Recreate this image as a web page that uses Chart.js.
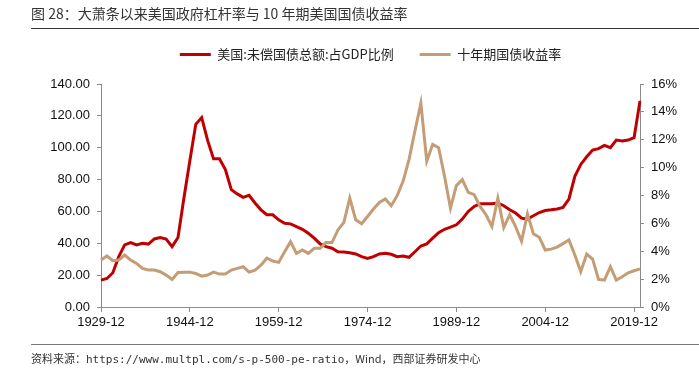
<!DOCTYPE html>
<html>
<head>
<meta charset="utf-8">
<script src="https://cdn.jsdelivr.net/npm/chart.js@4.4.1/dist/chart.umd.min.js"></script>
<style>
  html, body { margin: 0; padding: 0; background: #fff; }
  #wrap { position: relative; width: 699px; height: 368px; overflow: hidden; }
  #box { position: absolute; left: 0; top: 0; width: 699px; height: 368px; }
  .title { position: absolute; left: 31px; top: 4px; font-size: 14px; line-height: 18px; color: #333;
           font-family: "Noto Sans CJK SC", sans-serif; white-space: nowrap; }
  .rule { position: absolute; left: 31px; width: 668px; height: 1px; }
  .source { position: absolute; left: 31px; top: 351px; font-size: 11px; line-height: 14px; color: #333;
            font-family: "Noto Sans CJK SC", sans-serif; white-space: nowrap; }
  .source .mono { font-family: "DejaVu Sans Mono", monospace; font-size: 11px; }
</style>
</head>
<body>
<div id="wrap">
  <div id="box"><canvas id="debtChart"></canvas></div>
  <div class="title">图 28：大萧条以来美国政府杠杆率与 10 年期美国国债收益率</div>
  <div class="rule" style="top:28px; background:#333;"></div>
  <div class="rule" style="top:344px; background:#777;"></div>
  <div class="source">资料来源：<span class="mono">https://www.multpl.com/s-p-500-pe-ratio</span>，Wind，西部证券研发中心</div>
</div>
<script>
// 年份 (每年12月)
const years = [
  1929, 1930, 1931, 1932, 1933, 1934, 1935, 1936, 1937, 1938,
  1939, 1940, 1941, 1942, 1943, 1944, 1945, 1946, 1947, 1948,
  1949, 1950, 1951, 1952, 1953, 1954, 1955, 1956, 1957, 1958,
  1959, 1960, 1961, 1962, 1963, 1964, 1965, 1966, 1967, 1968,
  1969, 1970, 1971, 1972, 1973, 1974, 1975, 1976, 1977, 1978,
  1979, 1980, 1981, 1982, 1983, 1984, 1985, 1986, 1987, 1988,
  1989, 1990, 1991, 1992, 1993, 1994, 1995, 1996, 1997, 1998,
  1999, 2000, 2001, 2002, 2003, 2004, 2005, 2006, 2007, 2008,
  2009, 2010, 2011, 2012, 2013, 2014, 2015, 2016, 2017, 2018,
  2019, 2020
];

// 美国:未偿国债总额:占GDP比例 (左轴)
const debtToGdp = [
  16.9, 17.9, 21.5, 31.6, 39.0, 40.4, 39.0, 40.0, 39.5, 42.7,
  43.6, 42.7, 37.9, 43.6, 68.4, 91.8, 114.7, 118.9, 104.6, 93.0,
  93.0, 86.3, 73.7, 71.0, 68.8, 70.1, 65.3, 61.0, 57.9, 57.9,
  54.7, 52.6, 52.2, 50.5, 48.8, 46.3, 43.2, 39.6, 37.9, 36.9,
  34.7, 34.5, 34.1, 33.3, 31.6, 30.5, 31.6, 33.3, 33.7, 33.1,
  31.6, 32.0, 31.2, 34.7, 38.3, 39.6, 43.2, 46.7, 48.8, 50.1,
  51.6, 55.2, 60.0, 63.1, 64.8, 64.8, 64.8, 65.3, 63.6, 61.0,
  59.0, 55.8, 55.2, 57.3, 59.3, 60.6, 61.0, 61.5, 62.5, 67.8,
  82.0, 89.5, 94.3, 98.5, 99.4, 101.5, 100.0, 104.8, 104.2, 104.8,
  106.3, 129.4
];

// 十年期国债收益率, % (右轴)
const tenYearYield = [
  3.37, 3.66, 3.32, 3.37, 3.73, 3.37, 3.13, 2.77, 2.65, 2.65,
  2.53, 2.29, 1.98, 2.48, 2.50, 2.50, 2.41, 2.21, 2.29, 2.50,
  2.36, 2.36, 2.65, 2.77, 2.89, 2.50, 2.65, 3.00, 3.50, 3.30,
  3.20, 3.97, 4.69, 3.85, 4.09, 3.85, 4.21, 4.21, 4.62, 4.62,
  5.53, 6.06, 7.82, 6.26, 5.97, 6.49, 7.03, 7.50, 7.75, 7.27,
  7.99, 9.02, 10.58, 12.63, 14.62, 10.46, 11.67, 11.43, 9.38, 7.10,
  8.71, 9.14, 8.23, 8.06, 7.22, 6.62, 5.77, 7.80, 5.70, 6.62,
  5.77, 4.72, 6.69, 5.25, 5.00, 4.09, 4.15, 4.30, 4.55, 4.81,
  3.73, 2.53, 3.80, 3.44, 1.98, 1.93, 2.89, 1.93, 2.17, 2.45,
  2.60, 2.74
];

const xTickLabels = ['1929-12', '1944-12', '1959-12', '1974-12', '1989-12', '2004-12', '2019-12'];
const leftTicks = [0, 20, 40, 60, 80, 100, 120, 140];
const rightTicks = [0, 2, 4, 6, 8, 10, 12, 14, 16];

const labels = years.map(y => y + '-12');
const axisColor = '#8c8c8c';
const numFont = { family: '"Liberation Sans", Arial, sans-serif', size: 13 };

// 让图例和绘图区之间留出空白
const legendGap = {
  id: 'legendGap',
  beforeInit(chart) {
    const fit = chart.legend.fit;
    chart.legend.fit = function () {
      fit.bind(chart.legend)();
      this.height += 13;
    };
  }
};

const ctx = document.getElementById('debtChart').getContext('2d');
new Chart(ctx, {
  type: 'line',
  data: {
    labels: labels,
    datasets: [
      {
        label: '美国:未偿国债总额:占GDP比例',
        data: debtToGdp,
        borderColor: '#c00000',
        backgroundColor: '#c00000',
        borderWidth: 3,
        pointRadius: 0,
        tension: 0,
        yAxisID: 'y',
        order: 1
      },
      {
        label: '十年期国债收益率',
        data: tenYearYield,
        borderColor: '#c49c76',
        backgroundColor: '#c49c76',
        borderWidth: 3,
        pointRadius: 0,
        tension: 0,
        yAxisID: 'y1',
        order: 0
      }
    ]
  },
  options: {
    responsive: true,
    maintainAspectRatio: false,
    animation: false,
    layout: { padding: { top: 22, bottom: 31, left: 0, right: 0 } },
    plugins: {
      tooltip: { enabled: false },
      legend: {
        position: 'top',
        align: 'center',
        fullSize: false,
        labels: {
          boxWidth: 31,
          boxHeight: 3,
          padding: 26,
          color: '#222',
          font: { family: '"Noto Sans CJK SC", sans-serif', size: 13 },
          generateLabels: function (chart) {
            return Chart.defaults.plugins.legend.labels.generateLabels(chart)
              .sort((a, b) => a.datasetIndex - b.datasetIndex)
              .map(item => Object.assign(item, { fillStyle: item.strokeStyle, lineWidth: 0 }));
          }
        }
      }
    },
    scales: {
      x: {
        type: 'category',
        offset: false,
        afterFit: s => { s.height = 30; },
        border: { color: axisColor, width: 1 },
        grid: {
          drawOnChartArea: false,
          tickLength: 5,
          color: c => xTickLabels.includes(labels[c.index]) ? axisColor : 'rgba(0,0,0,0)'
        },
        ticks: {
          autoSkip: false,
          maxRotation: 0,
          padding: 3,
          color: '#111',
          font: numFont,
          callback: function (value, index) {
            const lab = labels[index];
            return xTickLabels.includes(lab) ? lab : '';
          }
        }
      },
      y: {
        position: 'left',
        min: 0,
        max: 140,
        afterFit: s => { s.width = 101; },
        afterBuildTicks: s => { s.ticks = leftTicks.map(v => ({ value: v })); },
        border: { color: axisColor, width: 1 },
        grid: { drawOnChartArea: false, tickLength: 4, color: axisColor },
        ticks: {
          padding: 7,
          color: '#111',
          font: numFont,
          callback: v => v.toFixed(2)
        }
      },
      y1: {
        position: 'right',
        min: 0,
        max: 16,
        afterFit: s => { s.width = 59; },
        afterBuildTicks: s => { s.ticks = rightTicks.map(v => ({ value: v })); },
        border: { color: axisColor, width: 1 },
        grid: { drawOnChartArea: false, tickLength: 4, color: axisColor },
        ticks: {
          padding: 7,
          color: '#111',
          font: numFont,
          callback: v => v + '%'
        }
      }
    }
  },
  plugins: [legendGap]
});
</script>
</body>
</html>
